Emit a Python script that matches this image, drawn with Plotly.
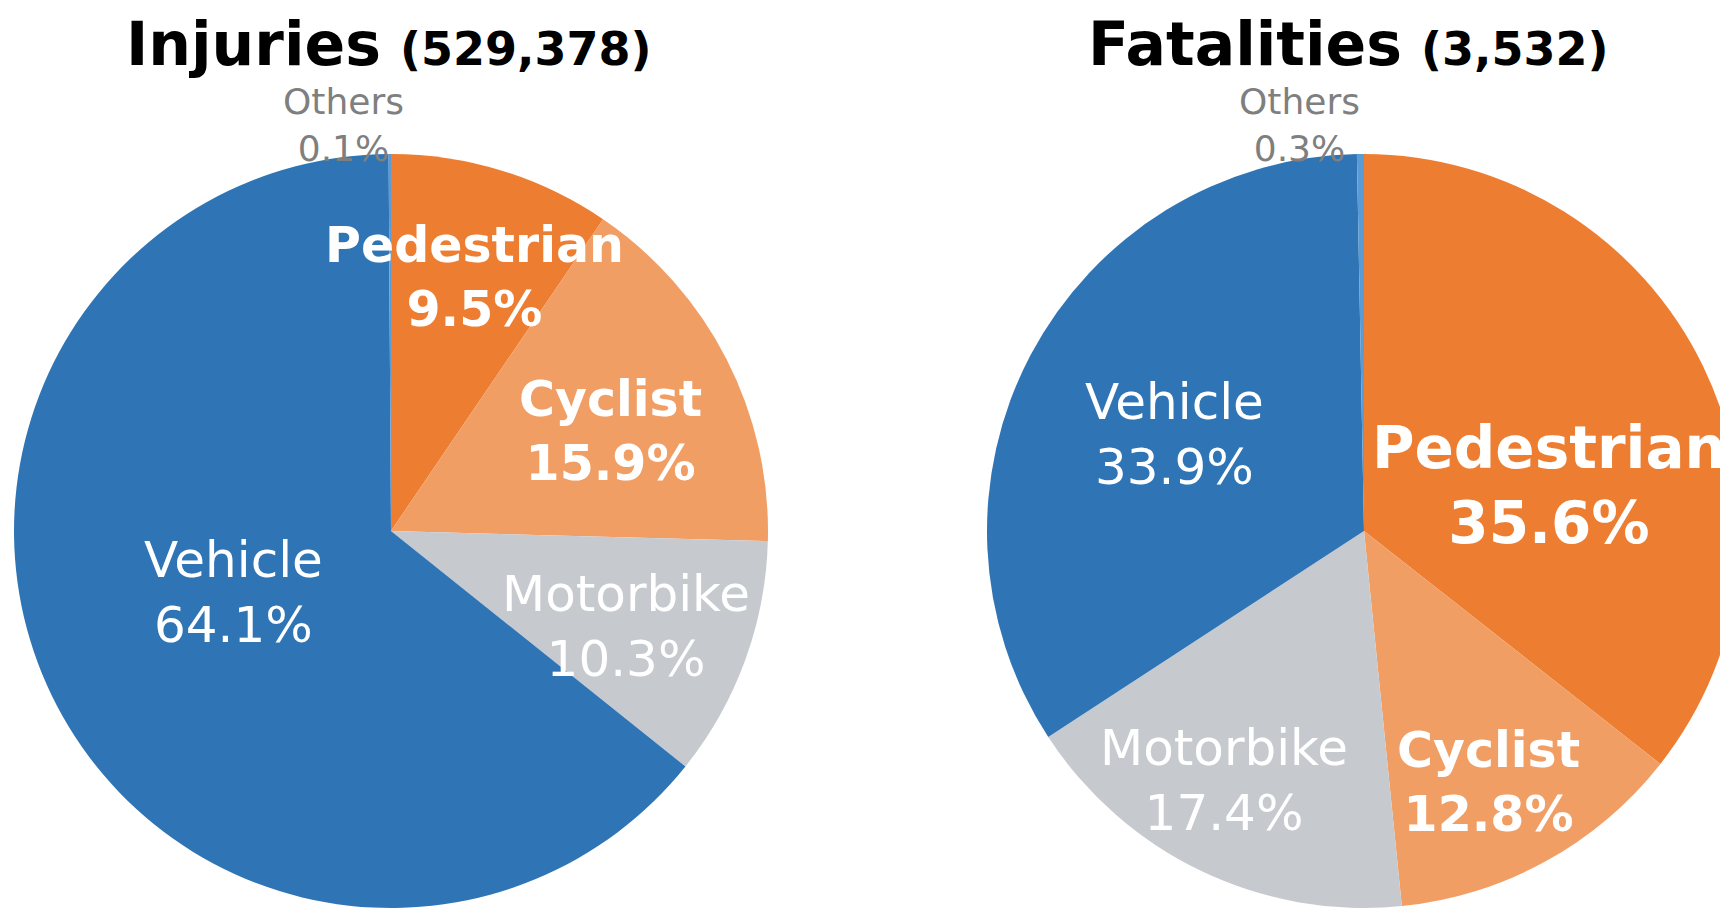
import plotly.graph_objects as go

categories = ["Pedestrian", "Cyclist", "Motorbike", "Vehicle", "Others"]
injuries_pct = [9.5, 15.9, 10.3, 64.1, 0.1]
fatalities_pct = [35.6, 12.8, 17.4, 33.9, 0.3]
titles = ["Injuries", "Fatalities"]
totals = ["529,378", "3,532"]

colors = ["#ED7D31", "#F19E65", "#C6CACF", "#2F75B5", "#5B9BD5"]

W, H = 1740, 900
OFF = 8  # default body margin of the page
FONT = "DejaVu Sans, Verdana, sans-serif"

def px(x, y):
    """page pixel -> paper coords"""
    return (x - OFF) / W, 1 - (y - OFF) / H

fig = go.Figure()
domains = [(14, 768), (987, 1741)]
for (x0, x1), vals, name in zip(domains, [injuries_pct, fatalities_pct], titles):
    fig.add_trace(go.Pie(
        labels=categories, values=vals, name=name,
        sort=False, direction="clockwise", rotation=0,
        marker=dict(colors=colors, line=dict(width=0)),
        textinfo="none", showlegend=False,
        domain=dict(x=[(x0 - OFF) / W, (x1 - OFF) / W], y=[0, 1 - (154 - OFF) / H]),
    ))

# label placement / style per chart: (x, y, size, bold, color)
label_style = {
    0: {
        "Pedestrian": (474, 277, 49, True, "white"),
        "Cyclist": (610, 431, 49, True, "white"),
        "Motorbike": (626, 626, 50, False, "white"),
        "Vehicle": (234, 592, 50, False, "white"),
        "Others": (343, 125, 36, False, "#7F7F7F"),
    },
    1: {
        "Pedestrian": (1549, 485, 58, True, "white"),
        "Cyclist": (1488, 782, 49, True, "white"),
        "Motorbike": (1224, 780, 50, False, "white"),
        "Vehicle": (1174, 434, 50, False, "white"),
        "Others": (1299, 125, 36, False, "#7F7F7F"),
    },
}

for i, vals in enumerate([injuries_pct, fatalities_pct]):
    for cat, v in zip(categories, vals):
        x, y, size, bold, col = label_style[i][cat]
        txt = f"{cat}<br>{v:.1f}%"
        if bold:
            txt = f"<b>{cat}</b><br><b>{v:.1f}%</b>"
        ax, ay = px(x, y)
        fig.add_annotation(x=ax, y=ay, xref="paper", yref="paper", text=txt,
                           showarrow=False, xanchor="center", yanchor="middle",
                           font=dict(family=FONT, size=size, color=col))

title_x = [389, 1348]
for t, tot, x in zip(titles, totals, title_x):
    ax, _ = px(x, 0)
    fig.add_annotation(x=ax, y=1, xref="paper", yref="paper",
                       text=f"<b>{t}</b> <b><span style='font-size:46px'>({tot})</span></b>",
                       showarrow=False, xanchor="center", yanchor="top", borderpad=0,
                       font=dict(family=FONT, size=60, color="black"))

fig.update_layout(width=W, height=H, margin=dict(l=0, r=0, t=0, b=0),
                  paper_bgcolor="white", plot_bgcolor="white")
fig.write_html("out.html")
